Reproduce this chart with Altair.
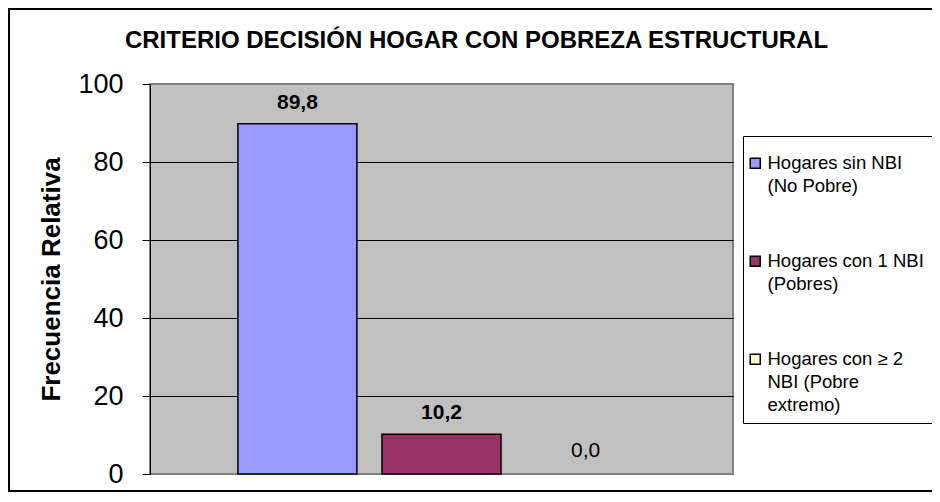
import altair as alt
import pandas as pd

# --- data -------------------------------------------------------------
series = [
    "Hogares sin NBI|(No Pobre)",
    "Hogares con 1 NBI|(Pobres)",
    "Hogares  con ≥ 2|NBI  (Pobre|extremo)",
]
values = [89.8, 10.2, 0.0]
value_labels = ["89,8", "10,2", "0,0"]
colors = ["#9999FF", "#993366", "#FFFFCC"]
y_ticks = [0, 20, 40, 60, 80, 100]
title_text = "CRITERIO DECISIÓN HOGAR CON POBREZA ESTRUCTURAL"
y_title = "Frecuencia Relativa"

df = pd.DataFrame({"serie": series, "valor": values, "etiqueta": value_labels})

FONT = "Liberation Sans"
W, H = 583, 390
PAD = {"left": 142, "top": 76, "right": 199, "bottom": 18}

x_scale = alt.Scale(domain=series, paddingInner=0.174, paddingOuter=0.61)

y_enc = alt.Y(
    "valor:Q",
    scale=alt.Scale(domain=[0, 100], nice=False, zero=True),
    axis=alt.Axis(
        values=y_ticks,
        title=y_title,
        titleFont=FONT,
        titleFontSize=26,
        titleFontWeight="bold",
        titleColor="black",
        titleX=-91,
        titleBaseline="alphabetic",
        labelFont=FONT,
        labelFontSize=27,
        labelColor="black",
        labelPadding=19,
        tickSize=8,
        tickColor="black",
        domainColor="black",
        domainWidth=1,
        grid=True,
        gridColor="black",
        gridWidth=1,
        gridOpacity=alt.condition("datum.value == 0 || datum.value == 100", alt.value(0), alt.value(1)),
    ),
)

bars = (
    alt.Chart(df)
    .transform_filter("datum.valor > 0")
    .mark_bar(stroke="black", strokeWidth=1.5)
    .encode(
        x=alt.X("serie:N", scale=x_scale, axis=None),
        y=y_enc,
        color=alt.Color(
            "serie:N",
            scale=alt.Scale(domain=series, range=colors),
            legend=alt.Legend(
                title=" ",
                titleFontSize=8,
                titlePadding=2,
                orient="none",
                legendX=593,
                legendY=52,
                padding=8,
                strokeColor="black",
                fillColor="white",
                symbolType="square",
                symbolSize=100,
                symbolOffset=-5,
                symbolStrokeColor="black",
                symbolStrokeWidth=1.5,
                labelFont=FONT,
                labelFontSize=18.5,
                labelColor="black",
                labelLimit=300,
                labelOffset=3,
                labelExpr="split(datum.label, '|')",
                rowPadding=56,
            ),
        ),
    )
)

labels_bold = (
    alt.Chart(df)
    .transform_filter("datum.valor > 0")
    .mark_text(font=FONT, fontSize=21, fontWeight="bold", baseline="alphabetic", dy=-15, color="black")
    .encode(x=alt.X("serie:N", scale=x_scale), y="valor:Q", text="etiqueta:N")
)
labels_zero = (
    alt.Chart(df)
    .transform_filter("datum.valor == 0")
    .mark_text(font=FONT, fontSize=21, baseline="alphabetic", dy=-17, color="black")
    .encode(x=alt.X("serie:N", scale=x_scale), y="valor:Q", text="etiqueta:N")
)

frame = pd.DataFrame({"k": [0]})
top_rule = alt.Chart(frame).mark_rule(color="black", strokeWidth=2).encode(
    x=alt.value(-142), x2=alt.value(W + PAD["right"]), y=alt.value(-75)
)
left_rule = alt.Chart(frame).mark_rule(color="black", strokeWidth=2).encode(
    x=alt.value(-141), y=alt.value(-76), y2=alt.value(H + PAD["bottom"] - 1)
)
bottom_rule = alt.Chart(frame).mark_rule(color="black", strokeWidth=2).encode(
    x=alt.value(-142), x2=alt.value(W + PAD["right"]), y=alt.value(H + PAD["bottom"] - 1)
)

chart = (
    alt.layer(bars, labels_bold, labels_zero, top_rule, left_rule, bottom_rule)
    .properties(
        width=W,
        height=H,
        autosize=alt.AutoSizeParams(type="none"),
        padding=PAD,
        background="white",
        title=alt.TitleParams(
            title_text,
            font=FONT,
            fontSize=24,
            fontWeight="bold",
            color="black",
            anchor="middle",
            frame="group",
            dx=35,
            dy=65,
            offset=0,
            baseline="alphabetic",
        ),
    )
    .configure(style={"guide-label": {"lineHeight": 23}})
    .configure_view(fill="#C0C0C0", stroke="#808080", strokeWidth=2)
)

chart.save("out.html", embed_options={"renderer": "svg", "actions": False})
